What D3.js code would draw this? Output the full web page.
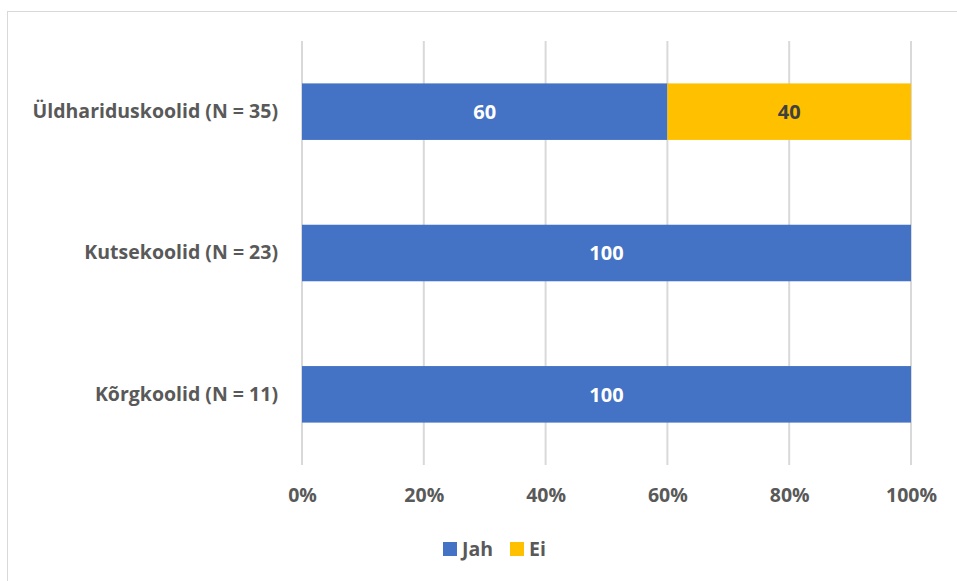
<!DOCTYPE html>
<html>
<head>
<meta charset="utf-8">
<script src="https://cdn.jsdelivr.net/npm/d3@7"></script>
<style>
  body{margin:0;background:#fff;}
  text{font-family:"Open Sans",sans-serif;font-weight:bold;}
</style>
</head>
<body>
<svg width="957" height="581"></svg>
<script>
const categories=['Üldhariduskoolid (N = 35)','Kutsekoolid (N = 23)','Kõrgkoolid (N = 11)'];
const jah=[60,100,100];
const ei=[40,0,0];
const seriesNames=['Jah','Ei'];
const tickValues=[0,20,40,60,80,100];

const svg=d3.select('svg');
const colors=['#4472C4','#FFC000'];
const margin={top:41,left:302,right:46,bottom:116};

// chart frame (only left and top edges fall inside the picture)
svg.append('rect')
   .attr('x',7.5).attr('y',11.5)
   .attr('width',1000).attr('height',1000)
   .attr('fill','none').attr('stroke','#d9d9d9');

const x=d3.scaleLinear().domain([0,100]).range([margin.left,911]);
const y=d3.scaleBand().domain(categories).range([margin.top,465])
          .paddingInner(0.6).paddingOuter(0.3);

// gridlines
svg.append('g')
   .selectAll('line')
   .data(tickValues)
   .enter().append('line')
   .attr('x1',d=>x(d)).attr('x2',d=>x(d))
   .attr('y1',margin.top).attr('y2',465)
   .attr('stroke','#d9d9d9').attr('stroke-width',2);

// x axis labels
const xAxis=d3.axisBottom(x).tickValues(tickValues).tickFormat(d=>d+'%').tickSize(0).tickPadding(0);
const gx=svg.append('g').attr('transform','translate(0,488)').call(xAxis);
gx.select('.domain').remove();
gx.selectAll('text').attr('fill','#595959').style('font-size','19.5px');

// y axis labels
const yAxis=d3.axisLeft(y).tickSize(0).tickPadding(24);
const gy=svg.append('g').attr('transform',`translate(${margin.left},0)`).call(yAxis);
gy.select('.domain').remove();
gy.selectAll('text').attr('fill','#595959').style('font-size','19.5px');

// stacked bars
const rows=categories.map((c,i)=>({cat:c,Jah:jah[i],Ei:ei[i]}));
const stack=d3.stack().keys(seriesNames)(rows);

const layers=svg.selectAll('.layer')
   .data(stack).enter().append('g')
   .attr('class','layer')
   .attr('fill',(d,i)=>colors[i]);

layers.selectAll('rect')
   .data(d=>d)
   .enter().append('rect')
   .attr('x',d=>x(d[0]))
   .attr('y',d=>y(d.data.cat))
   .attr('width',d=>x(d[1])-x(d[0]))
   .attr('height',y.bandwidth());

// data labels
layers.each(function(layer,i){
  d3.select(this).selectAll('text')
    .data(layer.filter(d=>d[1]-d[0]>0))
    .enter().append('text')
    .attr('x',d=>(x(d[0])+x(d[1]))/2)
    .attr('y',d=>y(d.data.cat)+y.bandwidth()/2)
    .attr('dy','0.36em')
    .attr('text-anchor','middle')
    .attr('fill',i===0?'#ffffff':'#404040')
    .style('font-size','20px')
    .text(d=>d[1]-d[0]);
});

// legend
const legend=svg.append('g').attr('transform','translate(443,549)');
const legX=[0,67];
seriesNames.forEach((s,i)=>{
  const g=legend.append('g').attr('transform',`translate(${legX[i]},0)`);
  g.append('rect').attr('x',0).attr('y',-7).attr('width',14).attr('height',14).attr('fill',colors[i]);
  g.append('text').attr('x',19).attr('y',0).attr('dy','0.36em')
   .attr('fill','#595959').style('font-size','19.5px').text(s);
});
</script>
</body>
</html>
